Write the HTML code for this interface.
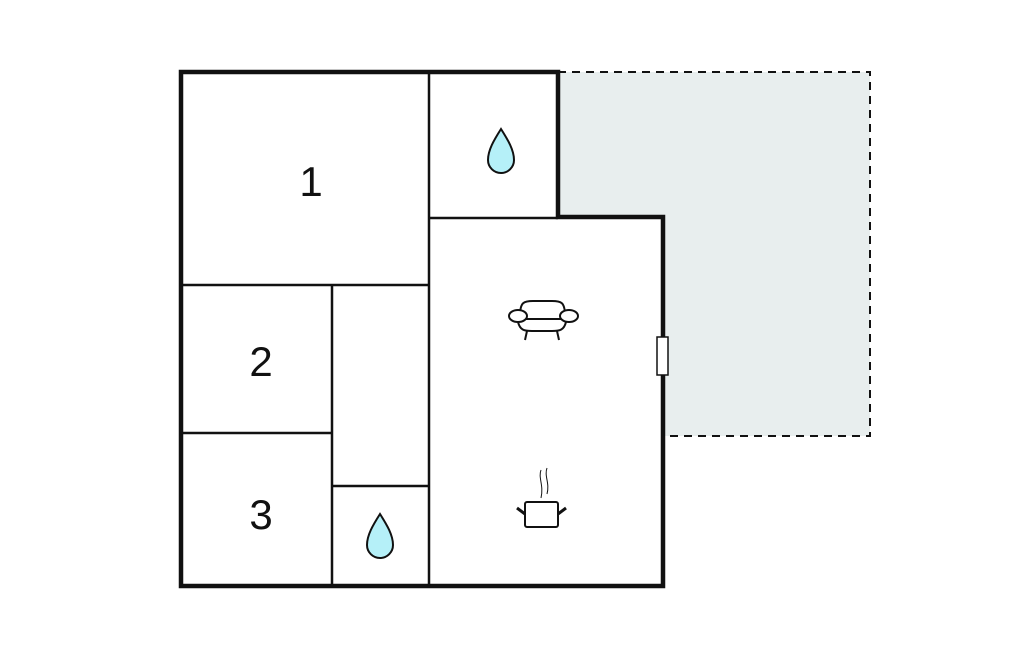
<!DOCTYPE html>
<html><head><style>body{margin:0;background:#fff}svg{display:block}</style></head><body>
<svg width="1024" height="652" viewBox="0 0 1024 652" xmlns="http://www.w3.org/2000/svg">
<polygon points="558,72 870,72 870,436 663,436 663,217 558,217" fill="#e8eeee"/>
<polyline points="558,72 870,72 870,436 663,436" fill="none" stroke="#111" stroke-width="2" stroke-dasharray="8,6"/>
<polygon points="181,586 181,72 558,72 558,217 663,217 663,586" fill="#fff" stroke="#111" stroke-width="4.5"/>
<g stroke="#111" stroke-width="2.5" fill="none">
<line x1="429" y1="72" x2="429" y2="586"/>
<line x1="429" y1="218" x2="558" y2="218"/>
<line x1="181" y1="285" x2="429" y2="285"/>
<line x1="332" y1="285" x2="332" y2="586"/>
<line x1="181" y1="433" x2="332" y2="433"/>
<line x1="332" y1="486" x2="429" y2="486"/>
</g>
<rect x="657" y="337" width="11" height="38" fill="#fff" stroke="#111" stroke-width="1.5"/>
<g font-family="Liberation Sans, sans-serif" font-size="42" fill="#111" text-anchor="middle">
<text x="311" y="196">1</text><text x="261" y="376">2</text><text x="261" y="529">3</text>
</g>
<path d="M501,129 C508,140 514,150 514,160 A13,13 0 0 1 488,160 C488,150 494,140 501,129 Z" fill="#b5f0f8" stroke="#111" stroke-width="2"/>
<path d="M380,514 C387,525 393,535 393,545 A13,13 0 0 1 367,545 C367,535 373,525 380,514 Z" fill="#b5f0f8" stroke="#111" stroke-width="2"/>
<g stroke="#111" stroke-width="2" fill="#fff">
<path d="M520,316 C520,302 524,301 533,301 L552,301 C561,301 565,302 565,316"/>
<path d="M518,322 C520,330 524,331 532,331 L552,331 C560,331 564,330 566,322"/>
<line x1="527" y1="331" x2="525" y2="340"/><line x1="557" y1="331" x2="559" y2="340"/>
<line x1="524" y1="319" x2="562" y2="319"/>
<ellipse cx="518" cy="316" rx="9" ry="6"/><ellipse cx="569" cy="316" rx="9" ry="6"/>
<rect x="525" y="502" width="33" height="25" rx="2"/>
<line x1="517" y1="508" x2="525" y2="514" stroke-width="3"/><line x1="566" y1="508" x2="558" y2="514" stroke-width="3"/>
</g>
<g stroke="#111" stroke-width="1" fill="none">
<path d="M541,470 C538,478 544,485 541,498"/><path d="M547,468 C544,476 550,483 547,494"/>
</g>
</svg>
</body></html>
